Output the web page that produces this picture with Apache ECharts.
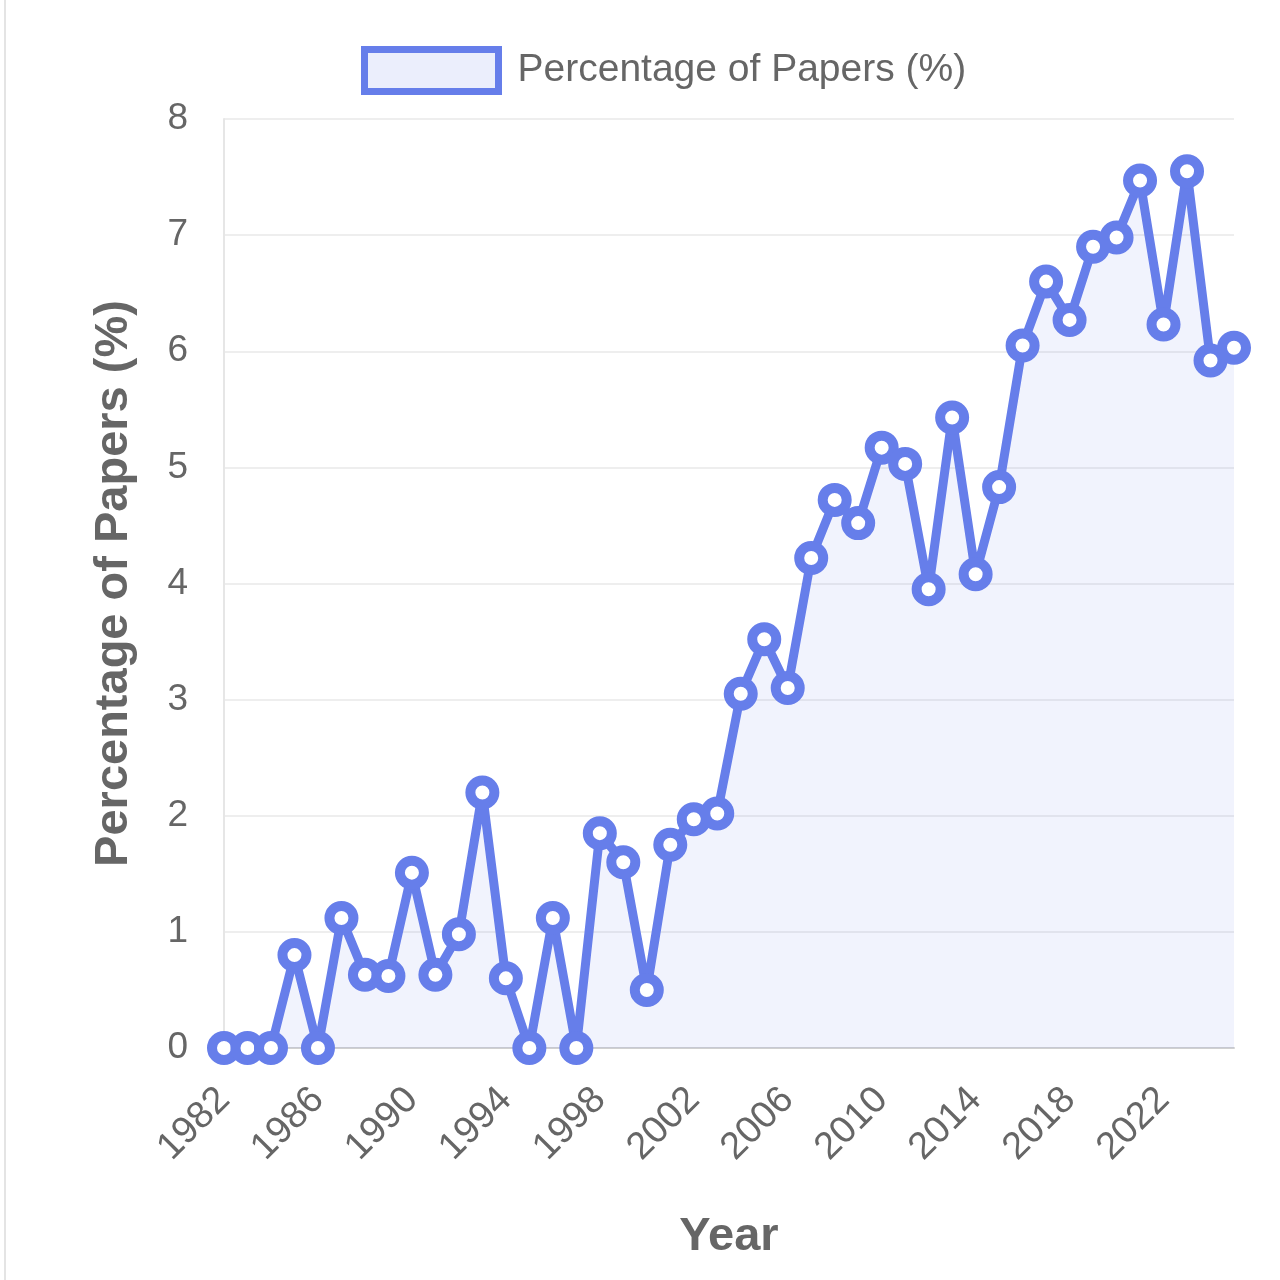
<!DOCTYPE html>
<html lang="en">
<head>
    <meta charset="UTF-8">
    <title>Percentage of Papers</title>
    <script src="https://cdn.jsdelivr.net/npm/echarts@6/dist/echarts.min.js"></script>
    <style>
        html, body {
            margin: 0;
            padding: 0;
            background: #fff;
        }
        .page-edge {
            position: absolute;
            left: 4px;
            top: 0;
            width: 2px;
            height: 1280px;
            background: #e4e4e4;
        }
        #chart {
            width: 1280px;
            height: 1280px;
        }
    </style>
</head>
<body>
    <div class="page-edge"></div>
    <div id="chart"></div>
    <script>
        const years = [];
        for (let y = 1982; y <= 2025; y++) years.push(String(y));

        const percentages = [
            0, 0, 0, 0.8, 0, 1.12, 0.63, 0.62, 1.51, 0.63,
            0.98, 2.2, 0.6, 0, 1.12, 0, 1.85, 1.6, 0.5, 1.75,
            1.97, 2.02, 3.05, 3.52, 3.1, 4.22, 4.72, 4.52, 5.17, 5.03,
            3.95, 5.43, 4.08, 4.83, 6.05, 6.6, 6.27, 6.9, 6.98, 7.47,
            6.23, 7.55, 5.92, 6.03
        ];

        const seriesName = 'Percentage of Papers (%)';
        const lineColor = '#667eea';
        const textColor = '#666';
        const font = '"Liberation Sans", Arial, sans-serif';

        const chart = echarts.init(document.getElementById('chart'));

        chart.setOption({
            animation: false,
            legend: {
                left: 356,
                top: 41,
                itemWidth: 134,
                itemHeight: 42,
                icon: 'rect',
                data: [seriesName],
                textStyle: {
                    fontSize: 39,
                    color: textColor,
                    fontFamily: font,
                    padding: [0, 0, 0, 14]
                },
                itemStyle: {
                    color: 'rgba(102,126,234,0.13)',
                    borderColor: lineColor,
                    borderWidth: 7
                }
            },
            grid: {
                left: 224,
                right: 46,
                top: 119,
                bottom: 232
            },
            xAxis: {
                type: 'category',
                data: years,
                boundaryGap: false,
                name: 'Year',
                nameLocation: 'middle',
                nameGap: 166,
                nameTextStyle: {
                    fontSize: 47,
                    fontWeight: 'bold',
                    color: textColor,
                    fontFamily: font
                },
                axisLine: { lineStyle: { color: '#d0d0d0', width: 2 } },
                axisTick: { show: false },
                axisLabel: {
                    interval: 3,
                    rotate: 45,
                    margin: 46,
                    fontSize: 38,
                    color: textColor,
                    fontFamily: font
                },
                splitLine: { show: false }
            },
            yAxis: {
                type: 'value',
                min: 0,
                max: 8,
                interval: 1,
                name: seriesName,
                nameLocation: 'middle',
                nameGap: 86,
                nameTextStyle: {
                    fontSize: 47,
                    fontWeight: 'bold',
                    color: textColor,
                    fontFamily: font
                },
                axisLine: { show: true, lineStyle: { color: '#e6e6e6', width: 2 } },
                axisTick: { show: false },
                axisLabel: {
                    margin: 36,
                    fontSize: 37,
                    color: textColor,
                    fontFamily: font
                },
                splitLine: { lineStyle: { color: '#eeeeee', width: 2 } }
            },
            series: [{
                name: seriesName,
                type: 'line',
                data: percentages,
                symbol: 'circle',
                symbolSize: 24,
                showAllSymbol: true,
                lineStyle: { color: lineColor, width: 9 },
                itemStyle: {
                    color: '#ffffff',
                    borderColor: lineColor,
                    borderWidth: 10
                },
                areaStyle: { color: 'rgba(102,126,234,0.13)' }
            }]
        });
    </script>
</body>
</html>
